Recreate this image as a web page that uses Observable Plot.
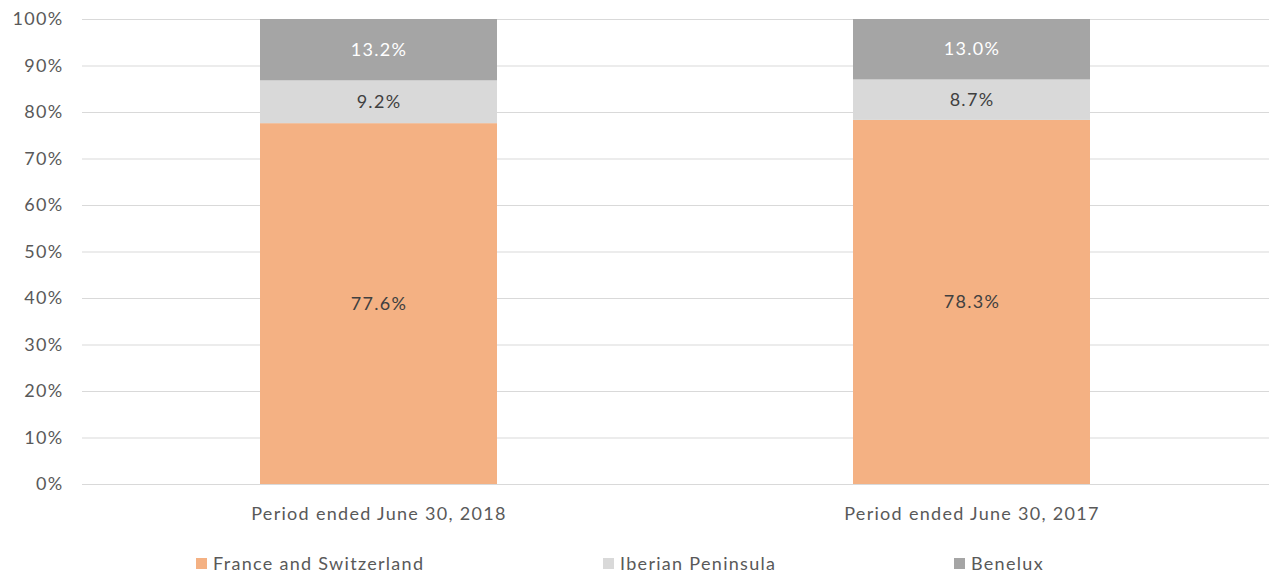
<!DOCTYPE html>
<html>
<head>
<meta charset="utf-8">
<script src="https://cdn.jsdelivr.net/npm/d3@7"></script>
<script src="https://cdn.jsdelivr.net/npm/@observablehq/plot@0.6"></script>
<style>
  html, body { margin: 0; padding: 0; background: #fff; }
  body { width: 1272px; height: 576px; overflow: hidden; font-family: Lato, "Open Sans", sans-serif; }
  #chart { position: relative; width: 1272px; height: 576px; }
  #legend { position: absolute; left: 0; top: 540px; width: 1272px; height: 36px; }
  .item { position: absolute; top: 12px; display: flex; align-items: center; font-size: 18px; letter-spacing: 1.3px; color: #595959; }
  .sw { width: 11px; height: 11px; margin-right: 6px; }
</style>
</head>
<body>
<div id="chart"></div>
<script>
const periods = ["Period ended June 30, 2018", "Period ended June 30, 2017"];
const regions = ["France and Switzerland", "Iberian Peninsula", "Benelux"];
const colors = ["#F4B183", "#D9D9D9", "#A5A5A5"];
const labelColors = ["#404040", "#404040", "#ffffff"];
const franceSwitzerland = [77.6, 78.3];
const iberianPeninsula = [9.2, 8.7];
const benelux = [13.2, 13.0];
const yTicks = [0, 10, 20, 30, 40, 50, 60, 70, 80, 90, 100];
const legendLeft = [196, 603, 954];

const seriesValues = [franceSwitzerland, iberianPeninsula, benelux];
const data = [];
regions.forEach((r, i) => periods.forEach((p, j) => data.push({period: p, region: r, value: seriesValues[i][j]})));

const plot = Plot.plot({
  width: 1272,
  height: 540,
  marginLeft: 82,
  marginRight: 3,
  marginTop: 19,
  marginBottom: 56,
  style: {fontFamily: "Lato, 'Open Sans', sans-serif", fontSize: "18px", letterSpacing: "1.3px", color: "#595959", background: "#fff"},
  x: {domain: periods, paddingInner: 0.6, paddingOuter: 0.3, label: null, tickSize: 0, tickPadding: 23},
  y: {domain: [0, 100], ticks: yTicks, tickFormat: d => d + "%", label: null, tickSize: 0, tickPadding: 19},
  color: {domain: regions, range: colors},
  marks: [
    Plot.ruleY(yTicks, {stroke: "#d9d9d9", strokeWidth: 1}),
    Plot.barY(data, {x: "period", y: "value", fill: "region", order: regions}),
    Plot.text(data, Plot.stackY({
      x: "period", y: "value", order: regions,
      text: d => d.value.toFixed(1) + "%",
      fill: d => labelColors[regions.indexOf(d.region)],
      fontSize: 18
    }))
  ]
});
document.getElementById("chart").appendChild(plot);

const legend = document.createElement("div");
legend.id = "legend";
regions.forEach((r, i) => {
  const it = document.createElement("div");
  it.className = "item";
  it.style.left = legendLeft[i] + "px";
  const sw = document.createElement("div");
  sw.className = "sw";
  sw.style.background = colors[i];
  const t = document.createElement("span");
  t.textContent = r;
  it.appendChild(sw); it.appendChild(t);
  legend.appendChild(it);
});
document.getElementById("chart").appendChild(legend);
</script>
</body>
</html>
